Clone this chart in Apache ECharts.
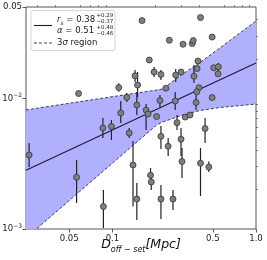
<!DOCTYPE html>
<html>
<head>
<meta charset="utf-8">
<script src="https://cdn.jsdelivr.net/npm/echarts@6/dist/echarts.min.js"></script>
<style>
html,body{margin:0;padding:0;background:#fff;}
#c{width:267px;height:260px;}
</style>
</head>
<body>
<div id="c"></div>
<script>
// ---- data ----
const xTicksMajor = [0.05, 0.1, 0.5, 1.0];
const xTickLabels = ['0.05', '0.1', '0.5', '1.0'];
const xTicksMinor = [0.03, 0.04, 0.06, 0.07, 0.08, 0.09, 0.2, 0.3, 0.4, 0.6, 0.7, 0.8, 0.9];
const yTicksMajor = [0.001, 0.01, 0.05];
const yTickLabels = ['10{sup|−3}', '10{sup|−2}', '0.05'];
const yTicksMinor = [0.002, 0.003, 0.004, 0.005, 0.006, 0.007, 0.008, 0.009, 0.02, 0.03, 0.04];

const fitX = [0.025, 1.0];
const fitY = [0.00282, 0.0186];

const bandX     = [0.025, 0.029, 0.0426, 0.0588, 0.0851, 0.1315, 0.2031, 0.2237, 0.3087, 0.4059, 0.5601, 1.0];
const bandUpper = [0.00814, 0.00836, 0.00892, 0.00942, 0.01002, 0.01077, 0.01157, 0.01178, 0.01535, 0.01875, 0.02429, 0.03903];
const bandLower = [0.000843, 0.000983, 0.001417, 0.001926, 0.002735, 0.004137, 0.006248, 0.006587, 0.007451, 0.008066, 0.008503, 0.009045];

const pointX = [0.0581, 0.1107, 0.1259, 0.1143, 0.0858, 0.0984, 0.02628, 0.05627, 0.0865, 0.1309,
  0.1391, 0.1479, 0.1843, 0.1864, 0.2177, 0.2641, 0.2177, 0.2444, 0.3004, 0.3053,
  0.4106, 0.4691, 0.4419, 0.1608, 0.4106, 0.2491, 0.3103, 0.3597, 0.3656, 0.4948,
  0.1805, 0.1951, 0.2177, 0.1437, 0.2758, 0.3004, 0.3942, 0.3886, 0.3697, 0.5069,
  0.5468, 0.5441, 0.1496, 0.2355, 0.4006, 0.3867, 0.4948, 0.1479, 0.2142, 0.2736,
  0.3824, 0.1715, 0.1771, 0.2031, 0.3214, 0.3473, 0.2817];
const pointY = [0.01088, 0.01209, 0.01018, 0.00772, 0.00593, 0.006085, 0.00368, 0.002487, 0.001486, 0.00543,
  0.003088, 0.001696, 0.002576, 0.002288, 0.001696, 0.001696, 0.00512, 0.0043, 0.004866, 0.003284,
  0.003187, 0.00298, 0.005874, 0.03937, 0.04151, 0.02783, 0.02594, 0.02626, 0.02768, 0.02944,
  0.01963, 0.01589, 0.01521, 0.01486, 0.01508, 0.01589, 0.01929, 0.0169, 0.01476, 0.01714,
  0.01742, 0.0154, 0.01264, 0.01195, 0.01205, 0.01121, 0.01014, 0.008889, 0.00962, 0.009535,
  0.00929, 0.00814, 0.00759, 0.00726, 0.00719, 0.007451, 0.00651];
const errLow = [null, 0.01123, 0.00937, 0.00647, 0.00497, 0.0048, 0.00298, 0.00158, 0.001018, 0.00497,
  0.001486, 0.001172, 0.002171, 0.001988, 0.001192, 0.001398, 0.004094, 0.003618, 0.003618, 0.002456,
  0.001788, 0.00273, 0.00455, null, null, null, null, null, null, null,
  null, 0.01455, 0.0138, 0.01332, 0.01332, null, null, null, 0.01309, null,
  0.01618, null, 0.01023, null, null, null, null, 0.007451, 0.00858, 0.00814,
  0.00814, 0.00572, null, null, null, null, 0.00572];
const errHigh = [null, 0.01302, 0.01098, 0.009535, 0.00707, 0.00682, 0.00455, 0.003373, 0.001988, 0.00593,
  0.004715, 0.002249, 0.002929, 0.002589, 0.002171, 0.001988, 0.00614, 0.00497, 0.00593, 0.004166,
  0.004166, 0.003284, 0.00707, null, null, null, null, null, null, null,
  null, 0.01736, 0.01647, 0.01647, 0.01676, null, null, null, 0.01798, null,
  0.01862, null, 0.01589, null, null, null, null, 0.01117, 0.0106, 0.01117,
  0.0106, 0.00905, null, null, null, null, 0.00745];

// ---- build ----
const FONT = 'DejaVu Sans';
const scatterData = pointX.map((x, i) => [x, pointY[i]]);
const errData = [];
pointX.forEach((x, i) => { if (errLow[i] != null) errData.push([x, errLow[i], errHigh[i]]); });
const fitData = fitX.map((x, i) => [x, fitY[i]]);
const bandData = bandX.map((x, i) => [x, bandLower[i], bandUpper[i]]);
const upperData = bandX.map((x, i) => [x, bandUpper[i]]);
const lowerData = bandX.map((x, i) => [x, bandLower[i]]);

function findIdx(arr, v) {
  for (let i = 0; i < arr.length; i++) if (Math.abs(Math.log10(arr[i]) - Math.log10(v)) < 1e-6) return i;
  return -1;
}

const chart = echarts.init(document.getElementById('c'), null, {renderer: 'canvas'});
const xMin = 0.025, xMax = 1.0, yMin = 0.001, yMax = 0.05;

const legendRich = {
  i: {fontFamily: FONT, fontStyle: 'italic', fontSize: 8.5, fill: '#222'},
  s: {fontFamily: FONT, fontStyle: 'italic', fontSize: 6, fill: '#222', verticalAlign: 'bottom', padding: [0, 0, -2, 0]},
  n: {fontFamily: FONT, fontSize: 8.5, fill: '#222'}
};

const option = {
  animation: false,
  grid: {left: 26, right: 11, top: 7, bottom: 31, containLabel: false, outerBoundsMode: 'none',
    show: true, borderColor: '#555', borderWidth: 1, backgroundColor: 'transparent'},
  xAxis: [
    {
      type: 'log', min: xMin, max: xMax, logBase: 10,
      axisLine: {show: false}, splitLine: {show: false}, minorTick: {show: false},
      axisTick: {show: true, inside: false, length: 3.5, lineStyle: {color: '#333', width: 0.8}, customValues: xTicksMajor},
      axisLabel: {
        show: true, customValues: xTicksMajor, fontFamily: FONT, fontSize: 8.5, color: '#222', margin: 5,
        formatter: v => { const i = findIdx(xTicksMajor, v); return i >= 0 ? xTickLabels[i] : ''; }
      },
      name: '{d|D}{s|off − set}{d|[Mpc]}',
      nameLocation: 'middle', nameGap: 6, nameMoveOverlap: false,
      nameTextStyle: {
        rich: {
          d: {fontFamily: FONT, fontStyle: 'italic', fontSize: 12.5, color: '#111', lineHeight: 16, verticalAlign: 'bottom'},
          s: {fontFamily: FONT, fontStyle: 'italic', fontSize: 8, color: '#111', lineHeight: 16, verticalAlign: 'bottom', padding: [0, 0, -3, 0]}
        }
      }
    },
    {
      type: 'log', min: xMin, max: xMax, logBase: 10,
      axisLine: {show: false}, splitLine: {show: false}, axisLabel: {show: false},
      axisTick: {show: true, inside: false, length: 2, lineStyle: {color: '#333', width: 0.6}, customValues: xTicksMinor}
    }
  ],
  yAxis: [
    {
      type: 'log', min: yMin, max: yMax, logBase: 10,
      axisLine: {show: false}, splitLine: {show: false}, minorTick: {show: false},
      axisTick: {show: true, inside: false, length: 3.5, lineStyle: {color: '#333', width: 0.8}, customValues: yTicksMajor},
      axisLabel: {
        show: true, customValues: yTicksMajor, fontFamily: FONT, fontSize: 8.5, color: '#222', margin: 4,
        formatter: v => { const i = findIdx(yTicksMajor, v); return i >= 0 ? yTickLabels[i] : ''; },
        rich: {
          sup: {fontFamily: FONT, fontSize: 6, color: '#222', verticalAlign: 'bottom', padding: [0, 0, 5, 0]}
        }
      }
    },
    {
      type: 'log', min: yMin, max: yMax, logBase: 10,
      axisLine: {show: false}, splitLine: {show: false}, axisLabel: {show: false},
      axisTick: {show: true, inside: false, length: 2, lineStyle: {color: '#333', width: 0.6}, customValues: yTicksMinor}
    }
  ],
  series: [
    {
      type: 'custom', name: 'band', data: bandData, z: 1, silent: true, clip: true,
      encode: {x: 0, y: [1, 2]},
      renderItem: (params, api) => {
        if (params.dataIndex !== 0) return null;
        const pts = [];
        for (let i = 0; i < bandX.length; i++) pts.push(api.coord([bandX[i], bandUpper[i]]));
        for (let i = bandX.length - 1; i >= 0; i--) pts.push(api.coord([bandX[i], bandLower[i]]));
        return {type: 'polygon', shape: {points: pts}, style: {fill: 'rgb(176,176,255)', stroke: null}};
      }
    },
    {
      type: 'line', name: 'upper', data: upperData, symbol: 'none', z: 2, clip: true, silent: true,
      lineStyle: {color: '#2a2a4a', width: 0.9, type: [3, 2]}
    },
    {
      type: 'line', name: 'lower', data: lowerData, symbol: 'none', z: 2, clip: true, silent: true,
      lineStyle: {color: '#2a2a4a', width: 0.9, type: [3, 2]}
    },
    {
      type: 'line', name: 'fit', data: fitData, symbol: 'none', z: 3,
      lineStyle: {color: '#1a1a33', width: 1.1}, clip: true, silent: true
    },
    {
      type: 'custom', name: 'err', data: errData, z: 4, silent: true,
      encode: {x: 0, y: [1, 2]},
      renderItem: (params, api) => {
        const x = api.value(0);
        const p1 = api.coord([x, api.value(2)]);
        const p2 = api.coord([x, api.value(1)]);
        return {type: 'line', shape: {x1: p1[0], y1: p1[1], x2: p2[0], y2: p2[1]},
          style: {stroke: '#222', lineWidth: 1.2}};
      }
    },
    {
      type: 'scatter', name: 'pts', data: scatterData, z: 5, silent: true,
      symbol: 'circle', symbolSize: 6,
      itemStyle: {color: '#7f7f7f', borderColor: '#333', borderWidth: 0.8, opacity: 1}
    }
  ],
  graphic: [
    {type: 'rect', shape: {x: 31, y: 10.5, width: 84, height: 40, r: 2}, z: 100,
      style: {fill: 'rgba(255,255,255,0.85)', stroke: '#cccccc', lineWidth: 0.8}},
    {type: 'line', shape: {x1: 34, y1: 25.5, x2: 52, y2: 25.5}, z: 101, style: {stroke: '#1a1a33', lineWidth: 1.1}},
    {type: 'text', x: 57, y: 19.5, z: 101, style: {text: '{i|r}{s|s}{n| = 0.38}', verticalAlign: 'middle', rich: legendRich}},
    {type: 'text', x: 96.5, y: 16, z: 101, style: {text: '+0.29', verticalAlign: 'middle', fontFamily: FONT, fontSize: 5.5, fill: '#222'}},
    {type: 'text', x: 96.5, y: 21.8, z: 101, style: {text: '−0.37', verticalAlign: 'middle', fontFamily: FONT, fontSize: 5.5, fill: '#222'}},
    {type: 'text', x: 57, y: 31, z: 101, style: {text: '{i|α}{n| = 0.51}', verticalAlign: 'middle', rich: legendRich}},
    {type: 'text', x: 96.5, y: 27.5, z: 101, style: {text: '+0.48', verticalAlign: 'middle', fontFamily: FONT, fontSize: 5.5, fill: '#222'}},
    {type: 'text', x: 96.5, y: 33.3, z: 101, style: {text: '−0.46', verticalAlign: 'middle', fontFamily: FONT, fontSize: 5.5, fill: '#222'}},
    {type: 'line', shape: {x1: 34, y1: 43, x2: 52, y2: 43}, z: 101, style: {stroke: '#2a2a4a', lineWidth: 0.9, lineDash: [3, 2]}},
    {type: 'text', x: 57, y: 43, z: 101, style: {text: '{n|3}{i|σ}{n| region}', verticalAlign: 'middle', rich: legendRich}}
  ]
};
chart.setOption(option);
</script>
</body>
</html>
